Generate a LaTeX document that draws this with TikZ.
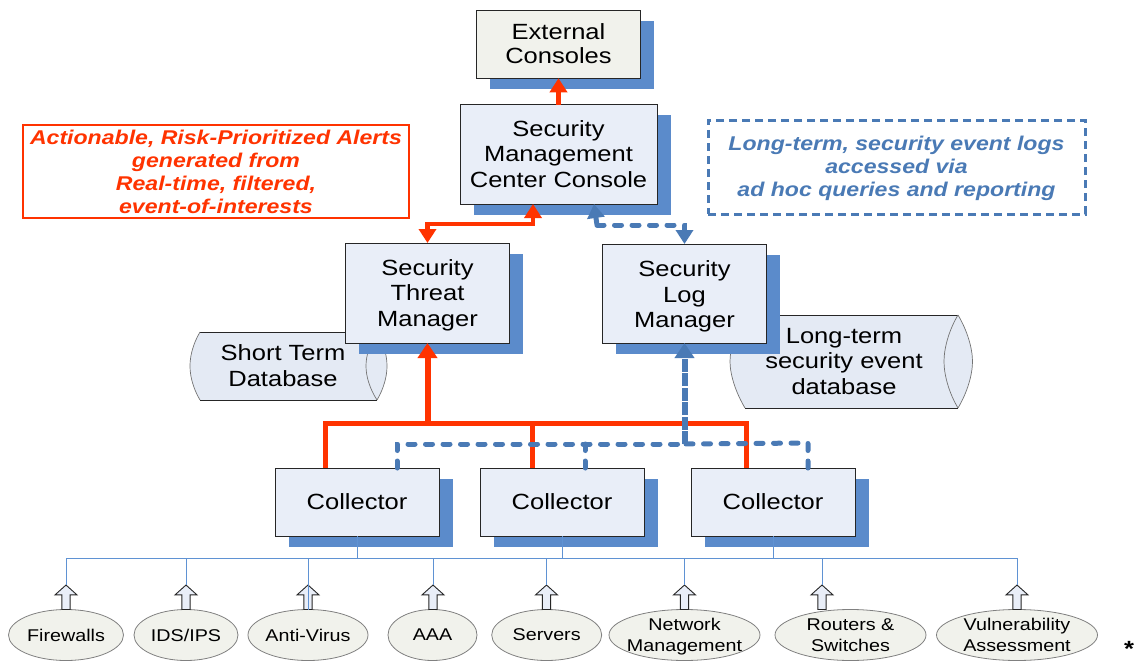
\documentclass[tikz,border=0pt]{standalone}
\usepackage{fontspec}
\usetikzlibrary{arrows.meta,shadows,shapes.geometric,shapes.arrows,calc}
\newfontfamily\diagfont[FakeStretch=1.16]{Liberation Sans}
\definecolor{shadowblue}{HTML}{5B8BCB}
\definecolor{boxfill}{HTML}{E9EEF8}
\definecolor{greyfill}{HTML}{F1F2EC}
\definecolor{dbfill}{HTML}{E4EAF4}
\definecolor{alertred}{HTML}{FF3300}
\definecolor{logblue}{HTML}{4A7AB5}
\definecolor{busblue}{HTML}{5F92D3}
\tikzset{
  x=1pt,y=-1pt,
  every node/.style={inner sep=0pt,outer sep=0pt,align=center,text=black},
  mainbox/.style={draw=black!85,line width=1pt,fill=boxfill,font=\diagfont\fontsize{22}{25.3}\selectfont,
    copy shadow={shadow xshift=13.5pt,shadow yshift=-10.5pt,fill=shadowblue,draw=none}},
  dbtext/.style={font=\diagfont\fontsize{22}{25.3}\selectfont},
  dbedge/.style={draw=black!55,line width=.7pt},
  dbline/.style={draw=black!85,line width=.9pt},
  source/.style={ellipse,inner sep=-30pt,draw=black!50,line width=.8pt,fill=greyfill,minimum height=51pt,font=\diagfont\fontsize{17}{21}\selectfont},
  upblock/.style={single arrow,inner xsep=0pt,inner ysep=3.65pt,draw=black!85,line width=.9pt,fill=boxfill,shape border rotate=0,rotate=90,
    minimum width=21pt,minimum height=24.5pt,single arrow head extend=6.9pt,single arrow tip angle=96,single arrow head indent=0pt},
  legendtext/.style={font=\diagfont\bfseries\itshape\fontsize{19.9}{23}\selectfont},
  redline/.style={draw=alertred,line width=4.5pt},
  dashline/.style={draw=logblue,line width=5pt,line cap=round,dash pattern=on 7pt off 10.5pt},
  busline/.style={draw=busblue,line width=1pt},
}
\begin{document}
\begin{tikzpicture}
\useasboundingbox (0,0) rectangle (1138,661);
% databases (behind the manager boxes)
\fill[dbfill] (200,332) -- (377,332) .. controls (383.5,343) and (387,355) .. (387,366) .. controls (387,377) and (383.5,389) .. (377,400) -- (200,400) .. controls (193.5,389) and (190,377) .. (190,366) .. controls (190,355) and (193.5,343) .. (200,332) -- cycle;
\draw[dbline] (200,332) -- (377,332) (200,400) -- (377,400);
\draw[dbedge] (200,332) .. controls (193.5,343) and (190,355) .. (190,366) .. controls (190,377) and (193.5,389) .. (200,400);
\draw[dbedge] (377,332) .. controls (383.5,343) and (387,355) .. (387,366) .. controls (387,377) and (383.5,389) .. (377,400);
\draw[dbedge] (377,332) .. controls (370,343) and (366,355) .. (366,366) .. controls (366,377) and (370,389) .. (377,400);
\fill[dbfill] (745,315) -- (958,315) .. controls (967,330) and (972.5,348) .. (972.5,361.5) .. controls (972.5,375) and (967,393) .. (958,408) -- (745,408) .. controls (736,393) and (730,375) .. (730,361.5) .. controls (730,348) and (736,330) .. (745,315) -- cycle;
\draw[dbline] (745,315) -- (958,315) (745,408) -- (958,408);
\draw[dbedge] (745,315) .. controls (736,330) and (730,348) .. (730,361.5) .. controls (730,375) and (736,393) .. (745,408);
\draw[dbedge] (958,315) .. controls (967,330) and (972.5,348) .. (972.5,361.5) .. controls (972.5,375) and (967,393) .. (958,408);
\draw[dbedge] (958,315) .. controls (949,330) and (944,348) .. (944,361.5) .. controls (944,375) and (949,393) .. (958,408);
\node[dbtext] (shortdb) at (283,365.5) {Short Term\\Database};
\node[dbtext] (longdb) at (844,361.5) {Long-term\\security event\\database};
% main boxes
\node[mainbox,fill=greyfill,minimum width=163.5pt,minimum height=67.5pt] (ext) at (558.5,44.5) {External\\[-1pt]Consoles\rule[-2.5pt]{0pt}{1pt}};
\node[mainbox,minimum width=197pt,minimum height=100pt] (smc) at (558.5,154) {Security\\Management\\Center Console};
\node[mainbox,minimum width=163.5pt,minimum height=100pt] (threat) at (427.5,293) {\rule{0pt}{20pt}Security\\Threat\\Manager};
\node[mainbox,minimum width=163.5pt,minimum height=99pt] (logm) at (684.5,293.5) {\rule{0pt}{22pt}Security\\Log\\Manager};
\node[mainbox,minimum width=164pt,minimum height=68pt] (c1) at (357,502) {Collector};
\node[mainbox,minimum width=164pt,minimum height=68pt] (c2) at (562,502) {Collector};
\node[mainbox,minimum width=164pt,minimum height=68pt] (c3) at (773,502) {Collector};
% legends
\node[draw=alertred,line width=2.7pt,minimum width=386pt,minimum height=93pt,legendtext,text=alertred] (alerts) at (216,171.5)
  {Actionable, Risk-Prioritized Alerts\\generated from\\Real-time, filtered,\\event-of-interests};
\node[draw=logblue,line width=3pt,dash pattern=on 8pt off 5pt,minimum width=377pt,minimum height=94pt,legendtext,text=logblue] (logs) at (896.5,167)
  {\rule{0pt}{17pt}Long-term, security event logs\\accessed via\\ad hoc queries and reporting};
% sources
\node[source,minimum width=115pt] (s1) at (66,635) {Firewalls};
\node[source,minimum width=104pt] (s2) at (186,635) {IDS/IPS};
\node[source,minimum width=120pt] (s3) at (308,635) {Anti-Virus};
\node[source,minimum width=89pt] (s4) at (432.5,635) {AAA};
\node[source,minimum width=110pt] (s5) at (546.7,635) {Servers};
\node[source,minimum width=151pt] (s6) at (684.5,635) {\rule{0pt}{16.5pt}Network\\Management};
\node[source,minimum width=151pt] (s7) at (850.5,635) {Routers \&\\Switches};
\node[source,minimum width=161pt] (s8) at (1017,635) {Vulnerability\\Assessment};
% block arrows
\foreach \n/\px in {1/66,2/186,3/308,4/433,5/546.5,6/684.5,7/822,8/1017}
  \node[upblock,anchor=tail] (a\n) at (\px,609.5) {};
% bus
\coordinate (busL) at (66,558);
\coordinate (busR) at (1017,558);
\draw[busline] (busL) -- (busR);
\foreach \c in {c1,c2,c3} \draw[busline] (\c.south) -- (\c.south |- busL);
\foreach \n in {1,2,4,5,6,7,8} \draw[busline] (a\n.tip) -- (a\n.tip |- busL);
\draw[busline] (s3.north) -- (s3.north |- busL);
% red connectors
\coordinate (redjog) at (533,224);
\coordinate (redbus) at (427.5,423);
\coordinate (redL) at (325,423);
\coordinate (redR) at (746,423);
\coordinate (c2red) at ([xshift=-30pt]c2.north);
\draw[redline,-{Triangle[width=17pt,length=14pt]}] ([yshift=-1pt]smc.north) -- (ext.south);
\draw[redline,{Triangle[width=17pt,length=14pt]}-{Triangle[width=17pt,length=14pt]}] (threat.north) |- (redjog) -- ([xshift=-25.5pt]smc.south);
\draw[redline,line width=5pt] ([xshift=-32pt]c1.north) -- (redL) -- (redR) -- ([xshift=-27pt]c3.north);
\draw[redline,line width=5pt] (c2red) -- (c2red |- redbus);
\draw[redline,line width=6pt,-{Triangle[width=19pt,length=15pt]}] (redbus) -- (threat.south);
% blue dashed connectors
\coordinate (bluejog1) at (597,225);
\coordinate (bluejog2) at (684.5,225);
\coordinate (blueL) at (397,444);
\coordinate (blueM) at (684.5,444);
\coordinate (blueR) at (808,443);
\coordinate (c2blue) at ([xshift=23pt]c2.north);
\draw[dashline,{Triangle[width=17pt,length=14pt]}-] ([xshift=35.5pt]smc.south) -- (bluejog1);
\draw[dashline,-{Triangle[width=17pt,length=14pt]}] (bluejog1) -- (bluejog2) -- (logm.north);
\draw[dashline] ([xshift=40pt]c1.north) -- (blueL) -- (blueM);
\draw[dashline] ([xshift=35pt]c3.north) -- (blueR) -- (blueM);
\draw[dashline] (c2blue) -- (c2blue |- blueL);
\draw[draw=logblue,line width=6pt,dash pattern=on 13pt off 1.5pt,-{Triangle[width=19pt,length=15pt]}] (blueM) -- (logm.south);
\node[font=\diagfont\bfseries\fontsize{22}{22}\selectfont] (star) at (1129,649) {*};
\end{tikzpicture}
\end{document}
